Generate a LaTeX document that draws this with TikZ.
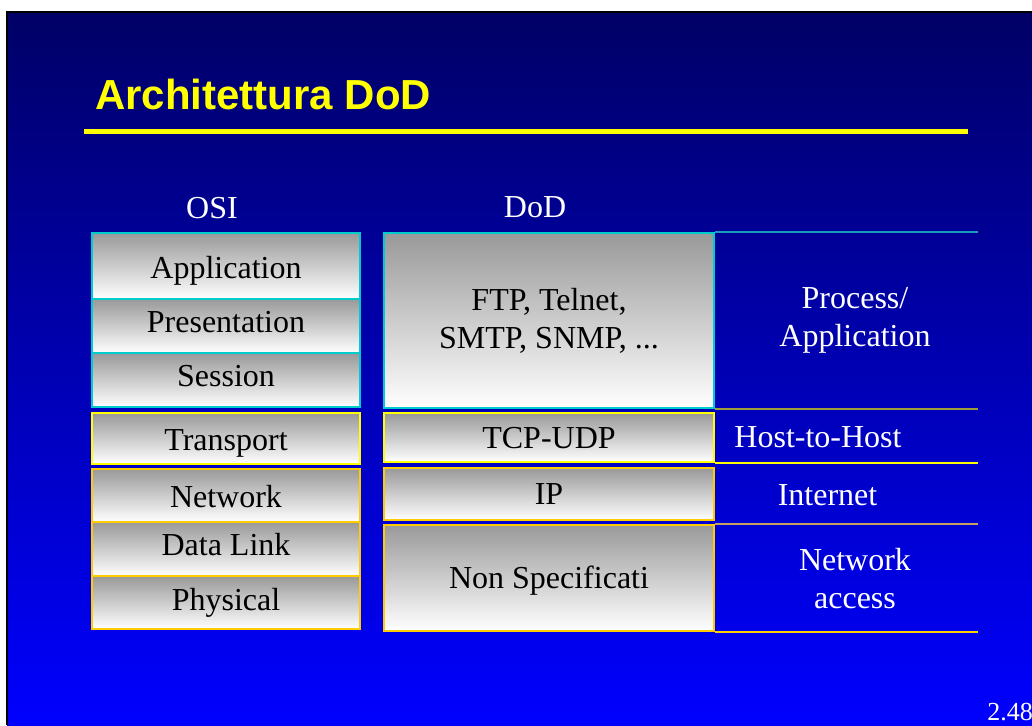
\documentclass[tikz,border=0pt]{standalone}
\usepackage{fontspec}
\setmainfont{Liberation Serif}
\newfontfamily\titlefont{Liberation Sans}
\definecolor{bgtop}{HTML}{000066}
\definecolor{bgbot}{HTML}{0000FF}
\definecolor{cyanb}{HTML}{00CCCC}
\definecolor{yel}{HTML}{FFFF00}
\definecolor{gold}{HTML}{FFCC00}
\definecolor{tealln}{HTML}{1A9CC0}
\definecolor{oliveln}{HTML}{9E9E3C}
\definecolor{tanln}{HTML}{C8A060}
\begin{document}
\begin{tikzpicture}[x=1pt,y=-1pt,
  layer/.style={rectangle,top color=black!40,bottom color=white,line width=2.8pt,inner sep=0pt,font=\fontsize{32}{38}\selectfont,align=center},
  osi/.style={layer,minimum width=268pt,text height=28pt,text depth=7pt},
  dod/.style={layer,minimum width=330pt,text height=28pt,text depth=7pt},
  lbl/.style={text=white,inner sep=0pt,font=\fontsize{32}{38}\selectfont,align=center}]
  \useasboundingbox (0,0) rectangle (1032,725);
  \fill[white] (0,0) rectangle (1032,725);
  \shade[top color=bgtop,bottom color=bgbot] (7,12) rectangle (1032,725);
  \draw[black,line width=2.5pt] (7,725) -- (7,12) -- (1032,12);

  % title
  \node[anchor=base west,text=yel,inner sep=0pt,font=\titlefont\bfseries\fontsize{42}{48}\selectfont] (title) at (95,109) {Architettura DoD};
  \draw[yel,line width=5pt] (84,131) -- (968,131);

  \node[lbl] (osi) at (212,208) {OSI};
  \node[lbl] (dod) at (535,207) {DoD};

  % OSI stack
  \node[osi,draw=cyanb,minimum height=66pt,text depth=3pt] (app) at (226,266) {Application};
  \node[osi,draw=cyanb,minimum height=54pt,text depth=15pt] (pres) at (226,326) {Presentation};
  \node[osi,draw=cyanb,minimum height=54pt,text depth=15pt] (sess) at (226,380) {Session};
  \node[osi,draw=yel,minimum height=51pt,text depth=5pt] (trans) at (226,438.5) {Transport};
  \node[osi,draw=gold,minimum height=53pt,text depth=5pt] (net) at (226,495.5) {Network};
  \node[osi,draw=gold,minimum height=54pt,text depth=15pt] (link) at (226,549) {Data Link};
  \node[osi,draw=gold,minimum height=53pt,text depth=12pt] (phys) at (226,602.5) {Physical};

  % DoD stack
  \node[layer,draw=cyanb,minimum width=330pt,minimum height=175pt] (ftp) at (549,320.5) {FTP, Telnet,\\SMTP, SNMP, ...};
  \node[dod,draw=yel,minimum height=49pt] (tcp) at (549,437.5) {TCP-UDP};
  \node[dod,draw=gold,minimum height=52pt] (ip) at (549,494) {IP};
  \node[dod,draw=gold,minimum height=106pt] (nonspec) at (549,578) {Non Specificati};

  % levels
  \coordinate (edge) at (978,0);
  \draw[tealln,line width=2pt] (ftp.north east) -- (ftp.north east -| edge);
  \draw[oliveln,line width=2pt] (ftp.south east) -- (ftp.south east -| edge);
  \draw[yel,line width=2pt] (tcp.south east) -- (tcp.south east -| edge);
  \draw[tanln,line width=2pt] (nonspec.north east) -- (nonspec.north east -| edge);
  \draw[gold,line width=2pt] (nonspec.south east) -- (nonspec.south east -| edge);

  \node[lbl] (proc) at (855,320) {Process/\\Application};
  \node[lbl] (h2h) at (818,437) {Host-to-Host};
  \node[lbl] (inet) at (827.5,495) {Internet};
  \node[lbl] (nacc) at (855,579) {Network\\access};

  \node[lbl,anchor=base east,font=\fontsize{26}{30}\selectfont] (pg) at (1033,720) {2.48};
\end{tikzpicture}
\end{document}
